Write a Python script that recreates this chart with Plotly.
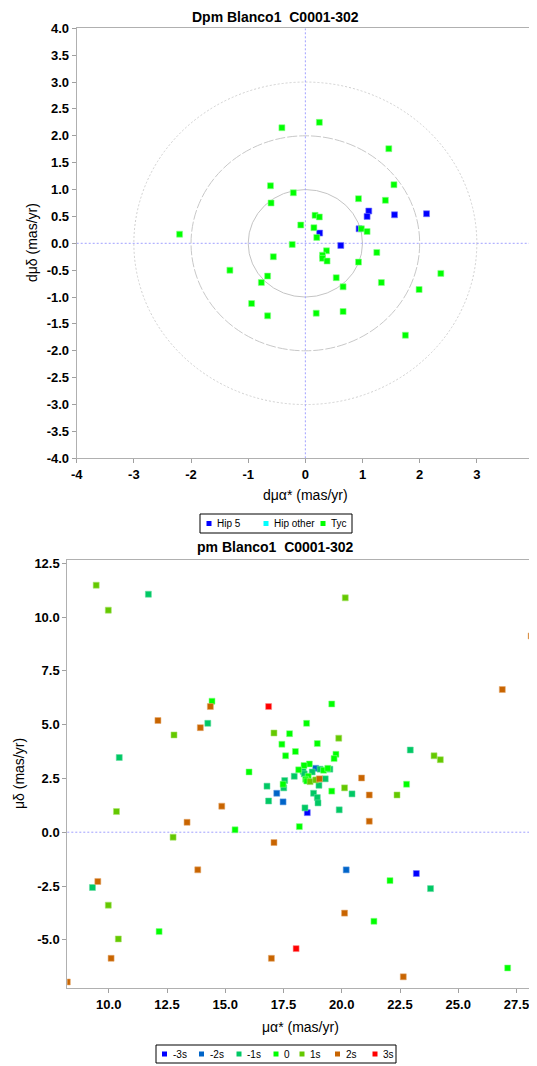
import plotly.graph_objects as go

# ---------------- Top chart data (Dpm) ----------------
hip5_dx = [1.11, 1.08, 1.56, 2.12, 0.94, 0.25, 0.62]
hip5_dy = [0.60, 0.50, 0.53, 0.55, 0.27, 0.19, -0.04]
hipother_dx = []
hipother_dy = []
tyc_dx = [-0.41, 0.245, 1.46, -0.61, 1.55, -0.21, 0.93, 1.40, -0.60, 0.17, 0.245, -0.08,
          0.15, 0.98, 1.08, -2.20, 0.20, -0.23, 0.37, 1.25, 0.30, 0.30, -0.56, 0.38, 0.93,
          -1.32, 2.37, -0.66, 0.54, -0.77, 1.33, 0.66, 1.99, -0.94, -0.66, 0.19, 0.66, 1.75]
tyc_dy = [2.15, 2.25, 1.76, 1.07, 1.09, 0.94, 0.83, 0.80, 0.75, 0.52, 0.49, 0.34,
          0.29, 0.27, 0.22, 0.17, 0.11, -0.02, -0.14, -0.17, -0.22, -0.28, -0.25, -0.33, -0.35,
          -0.50, -0.56, -0.61, -0.64, -0.73, -0.73, -0.81, -0.86, -1.12, -1.35, -1.30, -1.27, -1.71]
circle_radii = [1, 2, 3]
top_xticks = [-4, -3, -2, -1, 0, 1, 2, 3, 4]
top_yticks = [-4.0, -3.5, -3.0, -2.5, -2.0, -1.5, -1.0, -0.5, 0.0, 0.5, 1.0, 1.5, 2.0, 2.5, 3.0, 3.5, 4.0]
top_legend_names = ["Hip 5", "Hip other", "Tyc"]
top_legend_colors = ["#0000ff", "#00ffff", "#00ff00"]

# ---------------- Bottom chart data (pm) ----------------
m3_x = [18.52, 23.20]
m3_y = [0.91, -1.92]
m2_x = [18.88, 17.21, 17.48, 20.19]
m2_y = [2.97, 1.81, 1.41, -1.75]
m1_x = [11.70, 14.25, 22.94, 10.45, 18.34, 19.07, 19.49, 18.73, 18.39, 17.96, 19.29, 17.55,
        17.51, 19.02, 16.79, 20.44, 18.79, 18.95, 18.98, 16.86, 19.89, 18.42, 9.30, 23.81]
m1_y = [11.06, 5.06, 3.82, 3.47, 2.83, 2.93, 2.93, 2.80, 2.71, 2.60, 2.48, 2.40,
        2.06, 2.18, 2.14, 1.78, 1.81, 1.61, 1.36, 1.45, 1.04, 1.13, -2.57, -2.62]
z0_x = [14.43, 19.57, 18.49, 17.76, 17.43, 18.95, 18.01, 19.75, 17.59, 19.67, 18.61, 18.38,
        16.02, 18.15, 19.22, 19.40, 18.56, 18.45, 18.50, 17.48, 19.57, 22.78, 18.18, 15.42,
        22.07, 21.38, 12.16, 27.12]
z0_y = [6.09, 5.96, 5.06, 4.58, 4.09, 4.12, 3.75, 3.62, 3.55, 3.42, 3.17, 3.10,
        2.80, 2.90, 2.88, 2.97, 2.60, 2.46, 2.38, 2.23, 1.91, 2.23, 0.26, 0.11,
        -2.25, -4.14, -4.62, -6.31]
p1_x = [9.46, 9.98, 20.15, 12.80, 17.09, 19.87, 23.96, 24.23, 18.64, 18.88, 20.12, 22.37,
        10.33, 12.76, 9.98, 10.41]
p1_y = [11.48, 10.32, 10.89, 4.52, 4.61, 4.37, 3.55, 3.37, 2.35, 2.43, 2.06, 1.73,
        0.96, -0.23, -3.39, -4.96]
p2_x = [28.13, 26.89, 14.36, 12.11, 13.93, 19.04, 20.85, 21.18, 14.85, 13.36, 21.18, 17.09,
        13.82, 9.53, 20.12, 10.10, 16.98, 22.64, 8.22]
p2_y = [9.12, 6.63, 5.84, 5.19, 4.86, 2.48, 2.52, 1.73, 1.21, 0.46, 0.51, -0.48,
        -1.75, -2.29, -3.76, -5.86, -5.86, -6.72, -6.96]
p3_x = [16.86, 18.04]
p3_y = [5.84, -5.41]
bot_xticks = [10.0, 12.5, 15.0, 17.5, 20.0, 22.5, 25.0, 27.5]
bot_yticks = [-5.0, -2.5, 0.0, 2.5, 5.0, 7.5, 10.0, 12.5]
bot_legend_names = ["-3s", "-2s", "-1s", "0", "1s", "2s", "3s"]
bot_legend_colors = ["#0000ff", "#0064c8", "#00c864", "#00ff00", "#64c800", "#c86400", "#ff0000"]

FONT = "Liberation Sans, Arial, sans-serif"

# page body has an 8px margin; the figure is placed at (8, 8)
OFF = 8
FW, FH = 545, 1066

def px_x(p):
    return (p - OFF) / FW

def px_y(p):
    return 1 - (p - OFF) / FH

fig = go.Figure()

def add_pts(x, y, name, color, halo, xa, ya):
    fig.add_trace(go.Scatter(
        x=x, y=y, mode="markers", name=name, xaxis=xa, yaxis=ya,
        marker=dict(symbol="square", size=6, color=color,
                    line=dict(width=1, color=halo)),
        showlegend=False, hoverinfo="x+y+name"))

top_halos = ["rgba(120,120,255,0.6)", "rgba(120,255,255,0.6)", "rgba(140,255,140,0.6)"]
for (tx, ty), nm, c, hc in zip([(hip5_dx, hip5_dy), (hipother_dx, hipother_dy), (tyc_dx, tyc_dy)],
                               top_legend_names, top_legend_colors, top_halos):
    add_pts(tx, ty, nm, c, hc, "x", "y")

bot_halos = ["rgba(120,120,255,0.55)", "rgba(100,160,230,0.55)", "rgba(100,220,160,0.55)",
             "rgba(140,255,140,0.55)", "rgba(170,230,110,0.55)", "rgba(230,170,110,0.55)",
             "rgba(255,140,140,0.55)"]
bot_series = [(m3_x, m3_y), (m2_x, m2_y), (m1_x, m1_y), (z0_x, z0_y), (p1_x, p1_y), (p2_x, p2_y), (p3_x, p3_y)]
for (sx, sy), nm, c, hc in zip(bot_series, bot_legend_names, bot_legend_colors, bot_halos):
    add_pts(sx, sy, nm, c, hc, "x2", "y2")

# circles (top)
circle_style = {1: ("#c4c4c4", "solid"), 2: ("#c8c8c8", "10px,2px"), 3: ("#cfcfcf", "2px,2px")}
for r in circle_radii:
    col, dsh = circle_style[r]
    fig.add_shape(type="circle", xref="x", yref="y", x0=-r, y0=-r, x1=r, y1=r,
                  line=dict(color=col, width=1, dash=dsh), layer="below")

# zero lines
zl = dict(color="#a0a0ff", width=1, dash="2px,2px")
fig.add_shape(type="line", xref="x", yref="y", x0=0, x1=0, y0=top_yticks[0], y1=top_yticks[-1], line=zl, layer="below")
fig.add_shape(type="line", xref="x", yref="y", x0=top_xticks[0], x1=top_xticks[-1], y0=0, y1=0, line=zl, layer="below")
fig.add_shape(type="line", xref="x2 domain", yref="y2", x0=0, x1=1, y0=0, y1=0, line=zl, layer="below")

axis_common = dict(showgrid=False, zeroline=False, showline=True, mirror=True,
                   linecolor="#b0b0b0", linewidth=1, ticks="outside", ticklen=4,
                   tickcolor="#a0a0a0", automargin=False,
                   tickfont=dict(family=FONT, size=13, color="#000000", weight="bold"))

fig.update_layout(
    width=FW, height=FH, paper_bgcolor="white", plot_bgcolor="white",
    margin=dict(l=0, r=0, t=0, b=0, autoexpand=False),
    xaxis=dict(domain=[px_x(76.7), px_x(534)], range=[-4, 4], tickvals=top_xticks,
               ticktext=[str(v) for v in top_xticks], anchor="y", **axis_common),
    yaxis=dict(domain=[px_y(458.3), px_y(28.3)], range=[-4, 4], tickvals=top_yticks,
               ticktext=[f"{v:.1f}" for v in top_yticks], anchor="x", **axis_common),
    xaxis2=dict(domain=[px_x(67.3), px_x(534)], range=[8.22, 28.25], tickvals=bot_xticks,
                ticktext=[f"{v:.1f}" for v in bot_xticks], anchor="y2", **axis_common),
    yaxis2=dict(domain=[px_y(988), px_y(560)], range=[-7.24, 12.65], tickvals=bot_yticks,
                ticktext=[f"{v:.1f}" for v in bot_yticks], anchor="x2", **axis_common),
    showlegend=False,
)

def ann(text, x, y, size, bold=False, angle=0, xanchor="center"):
    fig.add_annotation(text=f"<b>{text}</b>" if bold else text, xref="paper", yref="paper",
                       x=px_x(x), y=px_y(y), xanchor=xanchor, yanchor="middle",
                       showarrow=False, textangle=angle,
                       font=dict(family=FONT, size=size, color="#000000"))

ann("Dpm Blanco1  C0001-302", 275, 17, 14, bold=True)
ann("pm Blanco1  C0001-302", 275, 547, 14, bold=True)
ann("dμα* (mas/yr)", 305, 495, 14)
ann("dμδ (mas/yr)", 32, 243, 14, angle=-90)
ann("μα* (mas/yr)", 300, 1027, 14)
ann("μδ (mas/yr)", 19, 774, 14, angle=-90)

# legend boxes (drawn in page pixels)
def legend_box(x0, x1, y0, y1, names, colors, marker_px):
    fig.add_shape(type="rect", xref="paper", yref="paper",
                  x0=px_x(x0), x1=px_x(x1), y0=px_y(y1), y1=px_y(y0),
                  line=dict(color="#000000", width=1), fillcolor="white")
    yc = (y0 + y1) / 2
    for nm, col, mx in zip(names, colors, marker_px):
        fig.add_shape(type="rect", xref="paper", yref="paper",
                      x0=px_x(mx - 2.5), x1=px_x(mx + 2.5), y0=px_y(yc + 2.5), y1=px_y(yc - 2.5),
                      line=dict(width=0), fillcolor=col)
        ann(nm, mx + 6, yc, 10, xanchor="left")

legend_box(200, 352, 514, 533, top_legend_names, top_legend_colors, [209, 266, 323])
legend_box(156, 396, 1045, 1063, bot_legend_names, bot_legend_colors,
           [164.5, 201.5, 239, 276, 302, 337.5, 375])

fig.write_html("out.html")
